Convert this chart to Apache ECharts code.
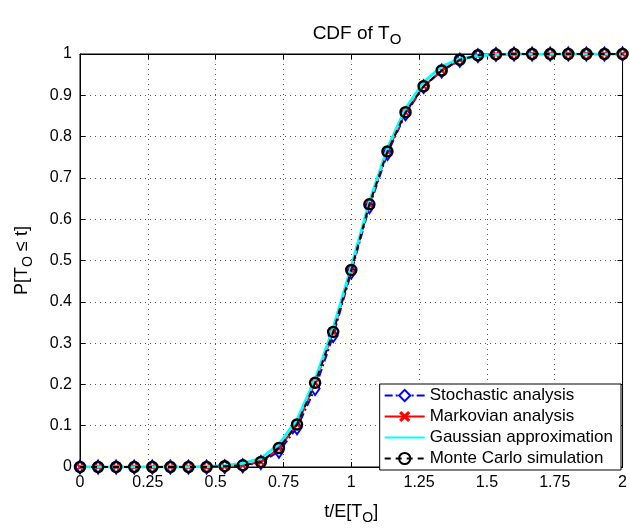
<!DOCTYPE html>
<html>
<head>
<meta charset="utf-8">
<script src="https://cdn.jsdelivr.net/npm/echarts@6/dist/echarts.min.js"></script>
<style>html,body{margin:0;padding:0;background:#fff}#c{width:630px;height:530px}</style>
</head>
<body>
<div id="c"></div>
<script>
var tValues = [0, 0.0667, 0.1333, 0.2, 0.2667, 0.3333, 0.4, 0.4667, 0.5333, 0.6, 0.6667, 0.7333, 0.8, 0.8667, 0.9333, 1.0, 1.0667, 1.1333, 1.2, 1.2667, 1.3333, 1.4, 1.4667, 1.5333, 1.6, 1.6667, 1.7333, 1.8, 1.8667, 1.9333, 2.0];
var stochastic = [0, 0, 0, 0, 0, 0, 0, 0, 0.001, 0.003, 0.011, 0.038, 0.095, 0.190, 0.318, 0.472, 0.630, 0.759, 0.855, 0.921, 0.959, 0.985, 0.996, 0.999, 1, 1, 1, 1, 1, 1, 1];
var markovian = [0, 0, 0, 0, 0, 0, 0, 0, 0.001, 0.004, 0.012, 0.045, 0.103, 0.204, 0.327, 0.477, 0.636, 0.764, 0.859, 0.922, 0.960, 0.986, 0.996, 0.999, 1, 1, 1, 1, 1, 1, 1];
var gaussian = [0, 0, 0, 0, 0, 0, 0, 0.001, 0.003, 0.009, 0.021, 0.055, 0.115, 0.212, 0.336, 0.485, 0.642, 0.772, 0.868, 0.932, 0.970, 0.988, 0.996, 0.999, 1, 1, 1, 1, 1, 1, 1];
var monteCarlo = [0, 0, 0, 0, 0, 0, 0, 0, 0.002, 0.004, 0.012, 0.046, 0.103, 0.204, 0.327, 0.477, 0.636, 0.764, 0.859, 0.922, 0.960, 0.986, 0.997, 0.999, 1, 1, 1, 1, 1, 1, 1];
var xTicks = [0, 0.25, 0.5, 0.75, 1, 1.25, 1.5, 1.75, 2];
var yTicks = [0, 0.1, 0.2, 0.3, 0.4, 0.5, 0.6, 0.7, 0.8, 0.9, 1];
var names = ['Stochastic analysis', 'Markovian analysis', 'Gaussian approximation', 'Monte Carlo simulation'];

function pairs(ys) { return tValues.map(function (t, i) { return [t, ys[i]]; }); }
var FONT = 'Liberation Sans, Arial, sans-serif';
var xSym = 'path://M2,0 L5,3 L8,0 L10,2 L7,5 L10,8 L8,10 L5,7 L2,10 L0,8 L3,5 L0,2 Z';

var chart = echarts.init(document.getElementById('c'));
var gridLine = { show: true, lineStyle: { color: '#555', type: [1, 4], width: 1 } };
var subRich = function (size, pad) {
  return { s: { fontFamily: FONT, fontSize: size, verticalAlign: 'bottom', padding: [pad, 0, 0, 0], color: '#000' } };
};
var option = {
  animation: false,
  backgroundColor: '#fff',
  textStyle: { fontFamily: FONT },
  title: {
    text: 'CDF of T{s|O}',
    left: 352, top: 15, textAlign: 'center',
    textStyle: { fontFamily: FONT, fontSize: 19, fontWeight: 'normal', color: '#000', rich: subRich(15, 12) }
  },
  grid: { left: 80, right: 6, top: 54, bottom: 55, show: true, borderColor: '#000', borderWidth: 1 },
  legend: {
    data: [
      { name: names[0] },
      { name: names[1] },
      { name: names[2], itemStyle: { opacity: 0 } },
      { name: names[3] }
    ],
    orient: 'vertical', right: 9, bottom: 60,
    backgroundColor: '#fff', borderColor: '#000', borderWidth: 1, borderRadius: 0,
    padding: [3, 8, 3, 4], itemGap: 4, itemWidth: 40, itemHeight: 14,
    textStyle: { fontFamily: FONT, fontSize: 17, lineHeight: 17, color: '#000' }
  },
  xAxis: [{
    type: 'value', min: 0, max: 2, interval: 0.25,
    name: 't/E[T{s|O}]', nameLocation: 'middle', nameGap: 33,
    nameTextStyle: { fontFamily: FONT, fontSize: 18, color: '#000', rich: subRich(14, 11) },
    axisLine: { show: true, onZero: false, lineStyle: { color: '#000' } },
    axisTick: { show: true, inside: true, length: 5, lineStyle: { color: '#000' } },
    axisLabel: { fontFamily: FONT, fontSize: 16, color: '#000', margin: 8,
      formatter: function (v) { return xTicks.indexOf(v) >= 0 ? String(v) : ''; } },
    splitLine: gridLine
  }, {
    type: 'value', min: 0, max: 2, interval: 0.25, position: 'top',
    axisLine: { show: true, onZero: false, lineStyle: { color: '#000' } },
    axisTick: { show: true, inside: true, length: 5, lineStyle: { color: '#000' } },
    axisLabel: { show: false }, splitLine: { show: false }
  }],
  yAxis: [{
    type: 'value', min: 0, max: 1, interval: 0.1,
    name: 'P[T{s|O} ≤ t]', nameLocation: 'middle', nameGap: 45, nameRotate: 90,
    nameTextStyle: { fontFamily: FONT, fontSize: 18, color: '#000', rich: subRich(14, 11) },
    axisLine: { show: true, onZero: false, lineStyle: { color: '#000' } },
    axisTick: { show: true, inside: true, length: 5, lineStyle: { color: '#000' } },
    axisLabel: { fontFamily: FONT, fontSize: 16, color: '#000', margin: 8,
      formatter: function (v) { var r = Math.round(v * 10) / 10; return yTicks.indexOf(r) >= 0 ? String(r) : ''; } },
    splitLine: gridLine
  }, {
    type: 'value', min: 0, max: 1, interval: 0.1, position: 'right',
    axisLine: { show: true, onZero: false, lineStyle: { color: '#000' } },
    axisTick: { show: true, inside: true, length: 5, lineStyle: { color: '#000' } },
    axisLabel: { show: false }, splitLine: { show: false }
  }],
  series: [
    { name: names[0], type: 'line', data: pairs(stochastic), z: 2,
      symbol: 'diamond', symbolSize: [9, 13],
      lineStyle: { color: '#0000ff', width: 2, type: [8, 3, 2, 3] },
      itemStyle: { color: '#fff', borderColor: '#0000ff', borderWidth: 2 } },
    { name: names[1], type: 'line', data: pairs(markovian), z: 3,
      symbol: xSym, symbolSize: 7,
      lineStyle: { color: '#ff0000', width: 2 },
      itemStyle: { color: '#ff0000', borderColor: '#ff0000', borderWidth: 0 } },
    { name: names[2], type: 'line', data: pairs(gaussian), z: 4,
      symbol: 'none',
      lineStyle: { color: '#00ffff', width: 3 },
      itemStyle: { color: '#00ffff' } },
    { name: names[3], type: 'line', data: pairs(monteCarlo), z: 5,
      symbol: 'circle', symbolSize: 10,
      lineStyle: { color: '#000', width: 2, type: [6, 5] },
      itemStyle: { color: 'rgba(0,0,0,0)', borderColor: '#000', borderWidth: 2.5 } }
  ]
};
chart.setOption(option);
</script>
</body>
</html>
